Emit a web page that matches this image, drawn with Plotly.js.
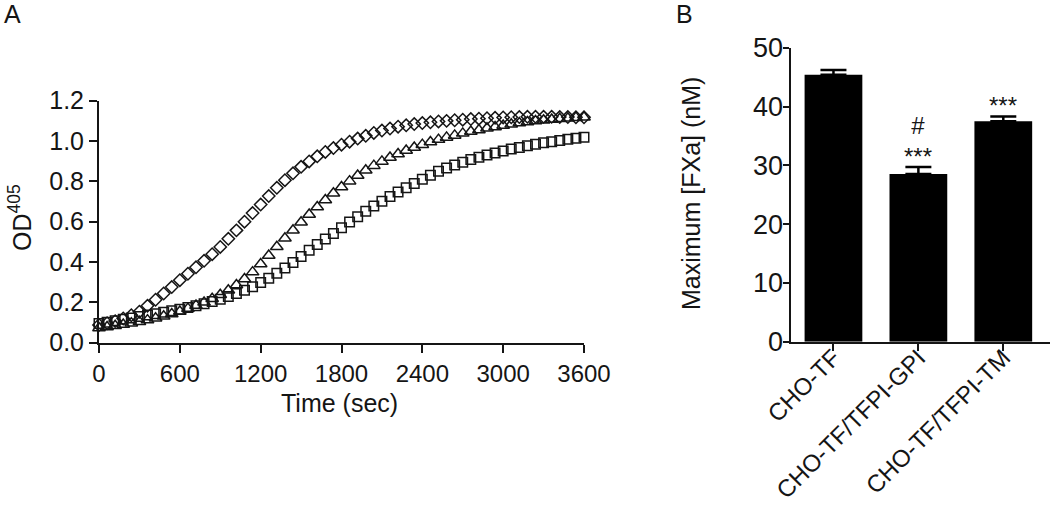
<!DOCTYPE html>
<html>
<head>
<meta charset="utf-8">
<script src="https://cdn.plot.ly/plotly-3.0.1.min.js"></script>
<style>html,body{margin:0;padding:0;background:#fff;}#chart{width:1050px;height:508px;}</style>
</head>
<body>
<div id="chart"></div>
<script>
// ---- Panel A: OD405 vs time ----
var timeSec = [0,60,120,180,240,300,360,420,480,540,600,660,720,780,840,900,960,1020,1080,1140,
  1200,1260,1320,1380,1440,1500,1560,1620,1680,1740,1800,1860,1920,1980,2040,2100,2160,2220,2280,2340,
  2400,2460,2520,2580,2640,2700,2760,2820,2880,2940,3000,3060,3120,3180,3240,3300,3360,3420,3480,3540,3600];

var odDiamond = [0.088,0.097,0.107,0.120,0.136,0.154,0.183,0.213,0.244,0.276,0.310,0.342,0.374,0.406,0.439,0.475,0.515,0.557,0.600,0.643,
  0.685,0.727,0.768,0.806,0.840,0.872,0.899,0.924,0.946,0.965,0.982,0.997,1.012,1.026,1.040,1.052,1.062,1.071,1.078,1.084,
  1.089,1.093,1.097,1.100,1.103,1.106,1.109,1.111,1.113,1.115,1.117,1.118,1.119,1.120,1.120,1.120,1.120,1.119,1.119,1.118,1.118];

var odTriangle = [0.073,0.078,0.084,0.090,0.097,0.104,0.112,0.121,0.131,0.142,0.155,0.169,0.184,0.200,0.218,0.238,0.260,0.286,0.316,0.350,
  0.390,0.432,0.476,0.518,0.558,0.597,0.636,0.673,0.708,0.741,0.772,0.801,0.829,0.855,0.878,0.899,0.918,0.936,0.953,0.968,
  0.982,0.995,1.007,1.018,1.028,1.038,1.047,1.055,1.063,1.070,1.077,1.083,1.089,1.094,1.099,1.103,1.107,1.110,1.113,1.116,1.118];

var odSquare = [0.095,0.102,0.109,0.116,0.123,0.130,0.137,0.144,0.151,0.158,0.166,0.174,0.183,0.193,0.204,0.216,0.229,0.244,0.260,0.278,
  0.298,0.320,0.344,0.370,0.398,0.428,0.458,0.487,0.514,0.542,0.570,0.598,0.625,0.652,0.678,0.702,0.725,0.747,0.768,0.789,
  0.810,0.830,0.850,0.866,0.881,0.895,0.908,0.920,0.931,0.941,0.951,0.960,0.968,0.976,0.984,0.991,0.997,1.003,1.009,1.014,1.019];

var xTicksA = [0,600,1200,1800,2400,3000,3600];
var yTicksA = [0.0,0.2,0.4,0.6,0.8,1.0,1.2];

// ---- Panel B: maximum FXa ----
var groups = ['CHO-TF','CHO-TF/TFPI-GPI','CHO-TF/TFPI-TM'];
var maxFXa = [45.4, 28.5, 37.5];
var semFXa = [0.8, 1.2, 0.8];
var sigMarks = ['', '#<br>***', '***'];
var yTicksB = [0,10,20,30,40,50];

var reg = '"Liberation Sans", Arial, sans-serif';
var ink = '#151515';

function mk(symbol, size){
  return {symbol: symbol, size: size, color: ink, line: {width: 1.5, color: ink}};
}

var traces = [
  {x: timeSec, y: odDiamond, type: 'scatter', mode: 'markers', marker: mk('diamond-open', 9.5), cliponaxis: false, xaxis: 'x', yaxis: 'y'},
  {x: timeSec, y: odSquare, type: 'scatter', mode: 'markers', marker: mk('square-open', 9.5), cliponaxis: false, xaxis: 'x', yaxis: 'y'},
  {x: timeSec, y: odTriangle, type: 'scatter', mode: 'markers', marker: mk('triangle-up-open', 11), cliponaxis: false, xaxis: 'x', yaxis: 'y'},
  {x: [0,1,2], y: maxFXa, type: 'bar', width: 0.68, marker: {color: '#000', line: {width: 0}},
   error_y: {type: 'data', array: semFXa, arrayminus: [0,0,0], symmetric: false, color: '#000', thickness: 2.5, width: 13},
   xaxis: 'x2', yaxis: 'y2'}
];

var annotations = [
  {text: 'A', xref: 'paper', yref: 'paper', x: 2/1050, y: 1, yshift: 2, xanchor: 'left', yanchor: 'top', showarrow: false, font: {family: reg, size: 25, color: ink}},
  {text: 'B', xref: 'paper', yref: 'paper', x: 674/1050, y: 1, yshift: 2, xanchor: 'left', yanchor: 'top', showarrow: false, font: {family: reg, size: 25, color: ink}},
  {text: 'OD<sup>405</sup>', xref: 'paper', yref: 'paper', x: 20/1050, y: 1 - 218/508, xanchor: 'center', yanchor: 'middle', textangle: -90, showarrow: false, font: {family: reg, size: 25, color: ink}},
  {text: 'Time (sec)', xref: 'paper', yref: 'paper', x: 339/1050, y: 1 - 403/508, xanchor: 'center', yanchor: 'middle', showarrow: false, font: {family: reg, size: 25, color: ink}},
  {text: 'Maximum [FXa] (nM)', xref: 'paper', yref: 'paper', x: 691/1050, y: 1 - 194/508, xanchor: 'center', yanchor: 'middle', textangle: -90, showarrow: false, font: {family: reg, size: 25, color: ink}}
];
for (var i = 0; i < groups.length; i++) {
  if (sigMarks[i]) annotations.push({text: sigMarks[i], xref: 'x2', yref: 'y2', x: i, y: maxFXa[i] + semFXa[i] - 0.8, xanchor: 'center', yanchor: 'bottom', showarrow: false, font: {family: reg, size: 24, color: ink}});
}

var axisBase = {showline: true, linecolor: ink, linewidth: 2, ticks: 'outside', ticklen: 8, tickwidth: 2, tickcolor: ink, showgrid: false, zeroline: false};

var layout = {
  width: 1050, height: 508,
  margin: {l: 0, r: 0, t: 0, b: 0},
  paper_bgcolor: '#fff', plot_bgcolor: '#fff',
  showlegend: false,
  xaxis: Object.assign({}, axisBase, {domain: [99/1050, 584/1050], range: [0, 3600], tickvals: xTicksA, tickfont: {family: reg, size: 24, color: ink}, anchor: 'y'}),
  yaxis: Object.assign({}, axisBase, {domain: [1 - 342.7/508, 1 - 100.7/508], range: [0, 1.2], tickvals: yTicksA, tickformat: '.1f', tickfont: {family: reg, size: 25, color: ink}, anchor: 'x'}),
  xaxis2: Object.assign({}, axisBase, {domain: [791/1050, 1], range: [-0.5, 2.55], tickvals: [0,1,2], ticktext: groups, tickangle: -45, ticklen: 7, ticklabelstandoff: -17, linewidth: 2.5, tickfont: {family: reg, size: 24, color: ink}, anchor: 'y2'}),
  yaxis2: Object.assign({}, axisBase, {domain: [1 - 341.7/508, 1 - 47.7/508], range: [0, 50], tickvals: yTicksB, ticklen: 6, ticklabelstandoff: -6, linewidth: 2.5, tickfont: {family: reg, size: 27, color: ink}, anchor: 'x2'}),
  annotations: annotations
};

Plotly.newPlot('chart', traces, layout, {displayModeBar: false, staticPlot: true});
</script>
</body>
</html>
